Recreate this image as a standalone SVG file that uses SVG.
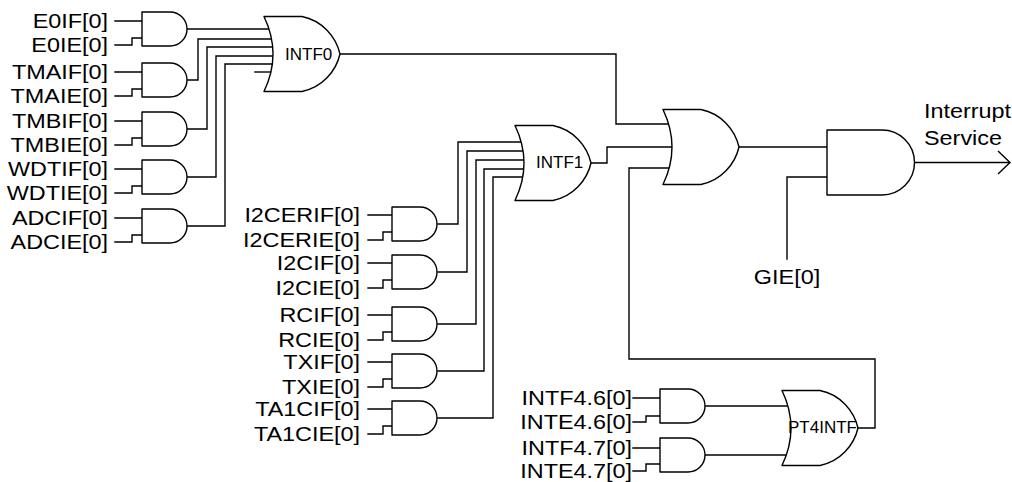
<svg xmlns="http://www.w3.org/2000/svg" xmlns:xlink="http://www.w3.org/1999/xlink" width="1012" height="482" viewBox="0 0 1012 482">
<style>
.w{fill:none;stroke:#000;stroke-width:1.4;stroke-linecap:square}
.g{fill:#fff;stroke:#000;stroke-width:1.4;stroke-linejoin:round}
.lb{font-family:"Liberation Sans",Arial,sans-serif;font-size:19.5px;fill:#000;text-anchor:end}
.ls{font-family:"Liberation Sans",Arial,sans-serif;font-size:19.5px;fill:#000}
.gn{font-family:"Liberation Sans",Arial,sans-serif;font-size:17px;fill:#000}
</style>
<defs>
<path id="and" d="M0,0 H28 A17,17 0 0 1 28,34 H0 Z"/>
<path id="or" d="M0,0 H38 C58,4 72,20 76,37.5 C72,55 58,71 38,75 H0 Q18,37.5 0,0 Z"/>
</defs>
<rect width="1012" height="482" fill="#fff"/>
<g id="connectors" class="w">
<path d="M115,21 H142 M115,45 H132 V38 H142"/>
<path d="M115,72 H142 M115,96 H132 V89 H142"/>
<path d="M115,121 H142 M115,145 H132 V138 H142"/>
<path d="M115,169 H142 M115,193 H132 V186 H142"/>
<path d="M115,218 H142 M115,242 H132 V235 H142"/>
<path d="M187,29 H274"/>
<path d="M187,80 H198 V39 H274"/>
<path d="M187,129 H207 V47 H274"/>
<path d="M187,177 H216 V56 H274"/>
<path d="M187,226 H225 V64 H274"/>
<path d="M255,72 H274"/>
<path d="M368,215 H392 M368,240 H383 V232 H392"/>
<path d="M368,263 H392 M368,288 H383 V280 H392"/>
<path d="M368,315 H392 M368,340 H383 V332 H392"/>
<path d="M368,362 H392 M368,387 H383 V379 H392"/>
<path d="M368,409 H392 M368,434 H383 V426 H392"/>
<path d="M438,224 H458 V142 H525"/>
<path d="M438,272 H467 V151 H525"/>
<path d="M438,324 H476 V160 H525"/>
<path d="M438,371 H484 V169 H525"/>
<path d="M438,418 H493 V177 H525"/>
<path d="M633,398 H660 M633,422 H646 V416 H660"/>
<path d="M633,448 H660 M633,471 H646 V464 H660"/>
<path d="M704,406 H792"/>
<path d="M704,455 H792"/>
<path d="M340,54 H616 V124 H673"/>
<path d="M591,163 H607 V147 H673"/>
<path d="M857,428 H875 V359 H629 V168 H673"/>
<path d="M739,147 H827"/>
<path d="M787,259 V177 H827"/>
<path d="M914,162.5 H1009"/>
<path d="M998,151 L1010,162.5 L998,174" style="stroke-linecap:butt;stroke-linejoin:miter"/>
</g>
<g id="and-e0"><use xlink:href="#and" class="g" x="142" y="12"/></g>
<g id="and-tma"><use xlink:href="#and" class="g" x="142" y="63"/></g>
<g id="and-tmb"><use xlink:href="#and" class="g" x="142" y="112"/></g>
<g id="and-wdt"><use xlink:href="#and" class="g" x="142" y="160"/></g>
<g id="and-adc"><use xlink:href="#and" class="g" x="142" y="209"/></g>
<g id="and-i2cer"><use xlink:href="#and" class="g" x="392" y="207"/></g>
<g id="and-i2c"><use xlink:href="#and" class="g" x="392" y="255"/></g>
<g id="and-rc"><use xlink:href="#and" class="g" x="392" y="307"/></g>
<g id="and-tx"><use xlink:href="#and" class="g" x="392" y="354"/></g>
<g id="and-ta1c"><use xlink:href="#and" class="g" x="392" y="401"/></g>
<g id="and-int46"><use xlink:href="#and" class="g" x="660" y="389"/></g>
<g id="and-int47"><use xlink:href="#and" class="g" x="660" y="438"/></g>
<g id="or-intf0"><use xlink:href="#or" class="g" x="264" y="16.5"/><text class="gn" x="285" y="60">INTF0</text></g>
<g id="or-intf1"><use xlink:href="#or" class="g" x="515" y="125.5"/><text class="gn" x="536" y="168">INTF1</text></g>
<g id="or-main"><use xlink:href="#or" class="g" x="663" y="109.5"/></g>
<g id="or-pt4intf"><use xlink:href="#or" class="g" x="782" y="390.5"/><text class="gn" x="788" y="433">PT4INTF</text></g>
<g id="and-out"><path class="g" d="M827,130 H882 A32.5,32.5 0 0 1 882,195 H827 Z"/></g>
<g id="labels-left">
<text class="lb" transform="translate(108,28) scale(1.2,1)">E0IF[0]</text>
<text class="lb" transform="translate(108,52) scale(1.2,1)">E0IE[0]</text>
<text class="lb" transform="translate(108,79) scale(1.2,1)">TMAIF[0]</text>
<text class="lb" transform="translate(108,103) scale(1.2,1)">TMAIE[0]</text>
<text class="lb" transform="translate(108,128) scale(1.2,1)">TMBIF[0]</text>
<text class="lb" transform="translate(108,152) scale(1.2,1)">TMBIE[0]</text>
<text class="lb" transform="translate(108,176) scale(1.2,1)">WDTIF[0]</text>
<text class="lb" transform="translate(108,200) scale(1.2,1)">WDTIE[0]</text>
<text class="lb" transform="translate(108,225) scale(1.2,1)">ADCIF[0]</text>
<text class="lb" transform="translate(108,249) scale(1.2,1)">ADCIE[0]</text>
</g>
<g id="labels-mid">
<text class="lb" transform="translate(360,222) scale(1.2,1)">I2CERIF[0]</text>
<text class="lb" transform="translate(360,247) scale(1.2,1)">I2CERIE[0]</text>
<text class="lb" transform="translate(360,270) scale(1.2,1)">I2CIF[0]</text>
<text class="lb" transform="translate(360,295) scale(1.2,1)">I2CIE[0]</text>
<text class="lb" transform="translate(360,322) scale(1.2,1)">RCIF[0]</text>
<text class="lb" transform="translate(360,347) scale(1.2,1)">RCIE[0]</text>
<text class="lb" transform="translate(360,369) scale(1.2,1)">TXIF[0]</text>
<text class="lb" transform="translate(360,394) scale(1.2,1)">TXIE[0]</text>
<text class="lb" transform="translate(360,416) scale(1.2,1)">TA1CIF[0]</text>
<text class="lb" transform="translate(360,441) scale(1.2,1)">TA1CIE[0]</text>
</g>
<g id="labels-pt4">
<text class="lb" transform="translate(632,405) scale(1.2,1)">INTF4.6[0]</text>
<text class="lb" transform="translate(632,429) scale(1.2,1)">INTE4.6[0]</text>
<text class="lb" transform="translate(632,455) scale(1.2,1)">INTF4.7[0]</text>
<text class="lb" transform="translate(632,478) scale(1.2,1)">INTE4.7[0]</text>
</g>
<g id="label-gie"><text class="ls" text-anchor="middle" transform="translate(787,284) scale(1.2,1)">GIE[0]</text></g>
<g id="label-out">
<text class="ls" transform="translate(924,118) scale(1.2,1)">Interrupt</text>
<text class="ls" transform="translate(924,145) scale(1.2,1)">Service</text>
</g>
</svg>
